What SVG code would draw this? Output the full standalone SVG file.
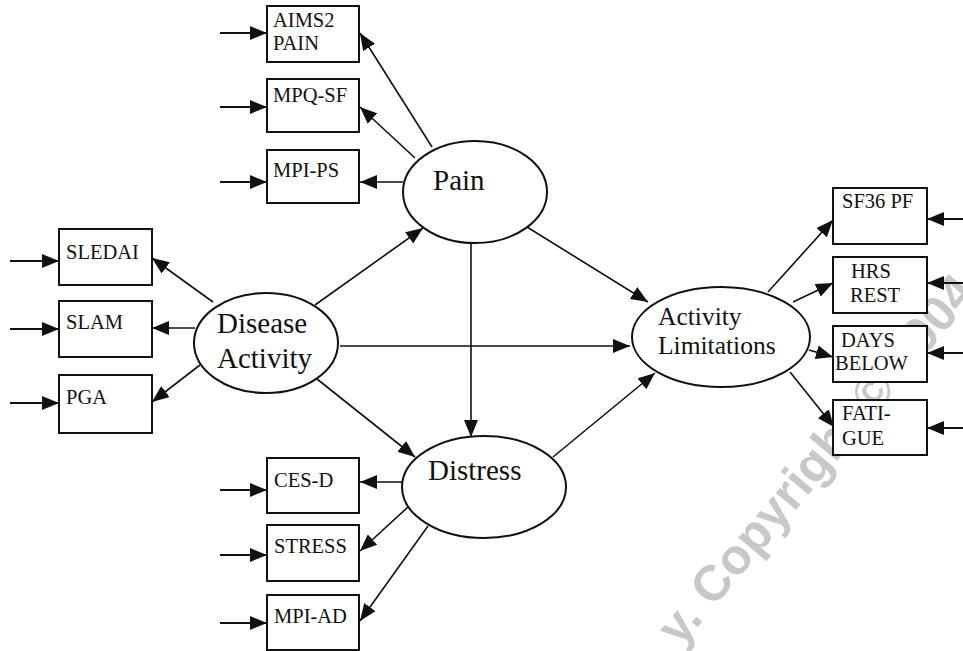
<svg xmlns="http://www.w3.org/2000/svg" width="963" height="651" viewBox="0 0 963 651">
<style>
.box{fill:#fff;stroke:#111;stroke-width:2}
.lat{fill:#fff;stroke:#111;stroke-width:2}
.t,.lt,.lt2{fill:#111}
.t{font-size:20.5px}
.lt{font-size:29px}
.lt2{font-size:25.5px}
.c line{stroke:#111;stroke-width:1.6;fill:none;marker-end:url(#ah)}
.c line.in{stroke-width:2}
.wm{font-weight:bold;font-size:50px;fill:#c8c8c8}
</style>
<defs>
<marker id="ah" viewBox="0 0 17 14" refX="17" refY="7" markerWidth="17" markerHeight="14" markerUnits="userSpaceOnUse" orient="auto">
<path d="M0,0 L17,7 L0,14 z" fill="#111"/>
</marker>
</defs>
<rect width="963" height="651" fill="#fff"/>
<text class="wm" font-family="Liberation Sans, Arial, sans-serif" transform="translate(680,648) rotate(-50)">y. Copyright © 2004</text>
<g class="c" id="connectors">
<line class="in" x1="220" y1="33" x2="267" y2="33"/>
<line class="in" x1="220" y1="107" x2="267" y2="107"/>
<line class="in" x1="220" y1="182" x2="267" y2="182"/>
<line class="in" x1="10" y1="261" x2="59" y2="261"/>
<line class="in" x1="10" y1="329" x2="59" y2="329"/>
<line class="in" x1="10" y1="403" x2="59" y2="403"/>
<line class="in" x1="220" y1="490" x2="267" y2="490"/>
<line class="in" x1="220" y1="555" x2="267" y2="555"/>
<line class="in" x1="220" y1="623" x2="267" y2="623"/>
<line class="in" x1="963" y1="219" x2="927" y2="219"/>
<line class="in" x1="963" y1="283" x2="927" y2="283"/>
<line class="in" x1="963" y1="353" x2="927" y2="353"/>
<line class="in" x1="963" y1="428" x2="927" y2="428"/>
<line x1="432" y1="147" x2="360" y2="33"/>
<line x1="415" y1="158" x2="360" y2="107"/>
<line x1="403" y1="182" x2="360" y2="182"/>
<line x1="213" y1="302" x2="152" y2="258"/>
<line x1="195" y1="328" x2="152" y2="328"/>
<line x1="200" y1="365" x2="152" y2="402"/>
<line x1="402" y1="482" x2="360" y2="482"/>
<line x1="408" y1="507" x2="360" y2="551"/>
<line x1="428" y1="526" x2="360" y2="621"/>
<line x1="768" y1="292" x2="833" y2="220"/>
<line x1="793" y1="302" x2="833" y2="283"/>
<line x1="809" y1="350" x2="833" y2="357"/>
<line x1="790" y1="372" x2="834" y2="427"/>
<line x1="315" y1="305" x2="423" y2="228"/>
<line x1="340" y1="346" x2="630" y2="346"/>
<line x1="317" y1="379" x2="415" y2="457"/>
<line x1="471" y1="243" x2="471" y2="437"/>
<line x1="527" y1="227" x2="648" y2="302"/>
<line x1="553" y1="457" x2="655" y2="373"/>
</g>
<g font-family="Liberation Serif, DejaVu Serif, Times New Roman, serif">
<g id="pain"><ellipse class="lat" cx="475" cy="192" rx="72" ry="51"/><text class="lt" x="433" y="190">Pain</text></g>
<g id="disease"><ellipse class="lat" cx="266" cy="343" rx="72" ry="50"/><text class="lt" x="217" y="333">Disease</text><text class="lt" x="217" y="368">Activity</text></g>
<g id="distress"><ellipse class="lat" cx="484" cy="487" rx="82" ry="51"/><text class="lt" x="428" y="480">Distress</text></g>
<g id="activity"><ellipse class="lat" cx="721" cy="337" rx="89" ry="50"/><text class="lt2" x="658" y="325">Activity</text><text class="lt2" x="658" y="354">Limitations</text></g>
<g id="aims2"><rect class="box" x="267" y="6" width="92" height="56"/><text class="t" x="273" y="27">AIMS2</text><text class="t" x="273" y="50">PAIN</text></g>
<g id="mpqsf"><rect class="box" x="267" y="79" width="92" height="53"/><text class="t" x="273" y="102">MPQ-SF</text></g>
<g id="mpips"><rect class="box" x="267" y="150" width="92" height="53"/><text class="t" x="273" y="177">MPI-PS</text></g>
<g id="sledai"><rect class="box" x="59" y="229" width="93" height="56"/><text class="t" x="66" y="259">SLEDAI</text></g>
<g id="slam"><rect class="box" x="59" y="301" width="93" height="56"/><text class="t" x="66" y="329">SLAM</text></g>
<g id="pga"><rect class="box" x="59" y="375" width="93" height="58"/><text class="t" x="66" y="404">PGA</text></g>
<g id="cesd"><rect class="box" x="267" y="458" width="92" height="55"/><text class="t" x="274" y="487">CES-D</text></g>
<g id="stress"><rect class="box" x="267" y="525" width="92" height="56"/><text class="t" x="274" y="553">STRESS</text></g>
<g id="mpiad"><rect class="box" x="267" y="595" width="92" height="55"/><text class="t" x="274" y="623">MPI-AD</text></g>
<g id="sf36"><rect class="box" x="833" y="188" width="94" height="56"/><text class="t" x="842" y="208">SF36 PF</text></g>
<g id="hrsrest"><rect class="box" x="833" y="257" width="94" height="56"/><text class="t" x="851" y="278">HRS</text><text class="t" x="850" y="302">REST</text></g>
<g id="daysbelow"><rect class="box" x="833" y="326" width="94" height="56"/><text class="t" x="841" y="347">DAYS</text><text class="t" x="835" y="370">BELOW</text></g>
<g id="fatigue"><rect class="box" x="833" y="400" width="94" height="55"/><text class="t" x="842" y="420">FATI-</text><text class="t" x="842" y="445">GUE</text></g>
</g>
</svg>
